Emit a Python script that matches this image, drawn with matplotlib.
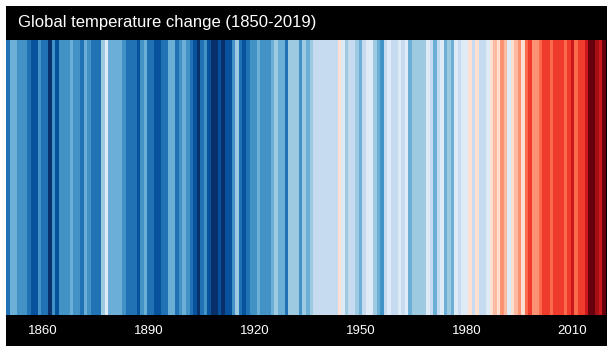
import numpy as np
import matplotlib
matplotlib.use('Agg')
import matplotlib.pyplot as plt
from matplotlib.colors import ListedColormap, Normalize

# global annual temperature anomaly (HadCRUT4, deg C vs 1961-1990)
years = np.arange(1850, 2020)
anomaly = [
    -0.373, -0.218, -0.228, -0.269, -0.248, -0.272, -0.358, -0.461, -0.467, -0.284,
    -0.343, -0.407, -0.524, -0.278, -0.494, -0.279, -0.251, -0.321, -0.238, -0.262,
    -0.276, -0.335, -0.227, -0.304, -0.368, -0.395, -0.384, -0.075, 0.035, -0.230,
    -0.227, -0.200, -0.213, -0.296, -0.409, -0.389, -0.367, -0.418, -0.307, -0.171,
    -0.416, -0.330, -0.455, -0.473, -0.410, -0.390, -0.186, -0.206, -0.412, -0.289,
    -0.203, -0.259, -0.402, -0.479, -0.520, -0.377, -0.283, -0.465, -0.511, -0.522,
    -0.490, -0.544, -0.437, -0.424, -0.244, -0.141, -0.383, -0.468, -0.333, -0.275,
    -0.247, -0.187, -0.302, -0.276, -0.294, -0.215, -0.108, -0.210, -0.206, -0.350,
    -0.137, -0.087, -0.137, -0.273, -0.131, -0.178, -0.147, -0.026, -0.006, -0.052,
    0.014, 0.020, -0.027, -0.004, 0.144, 0.025, -0.071, -0.038, -0.039, -0.074,
    -0.173, -0.052, 0.028, 0.097, -0.129, -0.190, -0.267, -0.007, 0.046, 0.017,
    -0.049, 0.038, 0.014, 0.048, -0.223, -0.140, -0.068, -0.074, -0.113, 0.032,
    -0.027, -0.186, -0.065, 0.062, -0.214, -0.149, -0.241, 0.047, -0.062, 0.057,
    0.092, 0.140, 0.011, 0.194, -0.014, -0.030, 0.045, 0.192, 0.198, 0.118,
    0.296, 0.254, 0.105, 0.148, 0.208, 0.325, 0.183, 0.390, 0.539, 0.306,
    0.294, 0.441, 0.496, 0.505, 0.447, 0.545, 0.506, 0.491, 0.395, 0.506,
    0.560, 0.425, 0.470, 0.514, 0.579, 0.763, 0.797, 0.677, 0.597, 0.736,
]
anomaly = np.array(anomaly)

# reference period 1971-2000 is white
ref = anomaly[(years >= 1971) & (years <= 2000)].mean()
anomaly = anomaly - ref

stripe_colors = ['#08306b', '#08519c', '#2171b5', '#4292c6',
                 '#6baed6', '#9ecae1', '#c6dbef', '#deebf7',
                 '#fee0d2', '#fcbba1', '#fc9272', '#fb6a4a',
                 '#ef3b2c', '#cb181d', '#a50f15', '#67000d']
cmap = ListedColormap(stripe_colors)
norm = Normalize(-0.7, 0.7)

tick_years = [1860, 1890, 1920, 1950, 1980, 2010]

W, H = 615, 353
fig = plt.figure(figsize=(W / 100, H / 100), dpi=100)
fig.patch.set_facecolor('white')

# black frame
bg = fig.add_axes([6 / W, (H - 346) / H, 601 / W, 340 / H])
bg.set_facecolor('black')
bg.set_xticks([])
bg.set_yticks([])
for s in bg.spines.values():
    s.set_visible(False)

# stripes
ax = fig.add_axes([6 / W, (H - 315) / H, 600 / W, 275 / H])
ax.bar(years, 1, width=1.0, color=cmap(norm(anomaly)), linewidth=0)
ax.set_xlim(1849.5, 2019.5)
ax.set_ylim(0, 1)
ax.set_yticks([])
ax.set_xticks(tick_years)
ax.tick_params(axis='x', length=0, pad=7, colors='white', labelsize=9.5)
for lab in ax.get_xticklabels():
    lab.set_family('Liberation Sans')
for s in ax.spines.values():
    s.set_visible(False)

fig.text(18 / W, (H - 23) / H, 'Global temperature change (1850-2019)',
         color='white', fontsize=12, family='Liberation Sans', va='center', ha='left')

fig.savefig('out.png', dpi=100, facecolor='white')
